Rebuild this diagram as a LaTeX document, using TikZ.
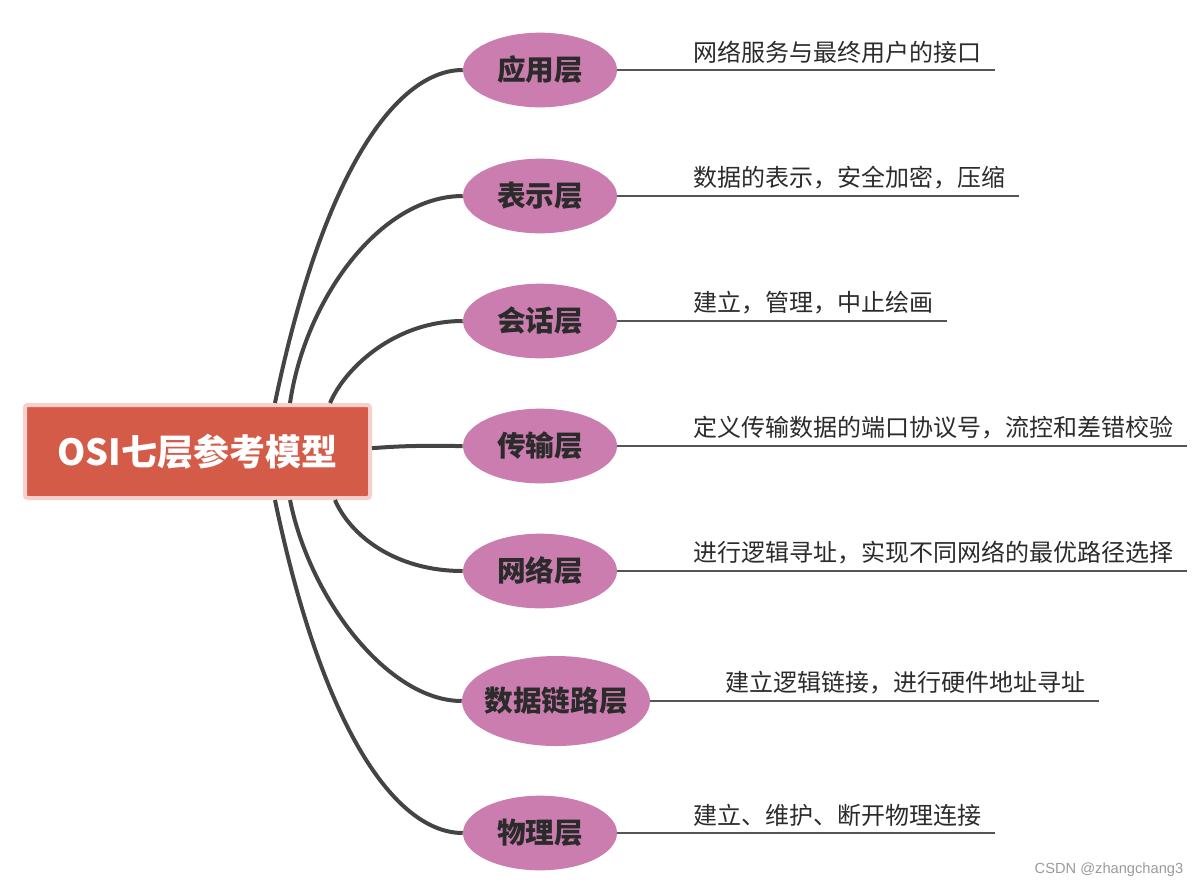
\documentclass[tikz,border=0pt]{standalone}
\usepackage{fontspec}
\setmainfont{Noto Sans CJK SC}
\newfontfamily\wmfont{Liberation Sans}
\usetikzlibrary{shapes.geometric}
\definecolor{Brick}{HTML}{D35B48}
\definecolor{LPink}{HTML}{F9CFCB}
\definecolor{Orchid}{HTML}{CC7DB0}
\definecolor{Ink}{HTML}{2B2B2B}
\definecolor{Branch}{HTML}{444444}
\definecolor{Stem}{HTML}{555555}
\definecolor{Muted}{HTML}{9A9A9A}

\begin{document}
\begin{tikzpicture}[x=0.75pt,y=-0.75pt,
    root/.style={draw=LPink,line width=3pt,fill=Brick,rounded corners=2pt,
                 minimum width=258.75pt,minimum height=69.75pt,
                 font=\bfseries\fontsize{27}{32}\selectfont\color{white}},
    layer/.style={ellipse,fill=Orchid,inner sep=0pt,
                  minimum width=115.5pt,minimum height=56pt,
                  font=\bfseries\fontsize{21.5}{24}\selectfont\color{Ink}},
    desc/.style={anchor=south west,inner xsep=9.75pt,inner ysep=5pt,
                 font=\fontsize{18}{22}\selectfont\color{Ink}},
    branch/.style={line width=3pt,color=Branch},
    stem/.style={line width=1.1pt,color=Stem}
  ]
    \useasboundingbox (0,0) rectangle (1200,890);
    \node[root] (root) at (197.5,451.5) {OSI七层参考模型};
    % layers
    \node[layer] (app) at (540,70)  {应用层};
    \node[layer] (pre) at (540,196) {表示层};
    \node[layer] (ses) at (540,321) {会话层};
    \node[layer] (tra) at (540,446) {传输层};
    \node[layer] (net) at (540,571) {网络层};
    \node[layer,inner xsep=-6pt,minimum width=141pt,minimum height=67.5pt]
         (dl) at (556,701) {数据链路层};
    \node[layer] (phy) at (540,833) {物理层};
    % branches
    \draw[branch] ([xshift=58.1pt]root.north) .. controls +(50,-240) and +(-63,0) .. (app.west);
    \draw[branch] ([xshift=69.4pt]root.north) .. controls +(15,-103) and +(-83,0) .. (pre.west);
    \draw[branch] ([xshift=99.4pt]root.north) .. controls +(15,-35) and +(-68,0) .. (ses.west);
    \draw[branch] ([yshift=2.5pt]root.east) .. controls +(40,-3) and +(-40,0) .. (tra.west);
    \draw[branch] ([xshift=103.1pt]root.south) .. controls +(15,35) and +(-68,0) .. (net.west);
    \draw[branch] ([xshift=69.4pt]root.south) .. controls +(20,100) and +(-73,0) .. (dl.west);
    \draw[branch] ([xshift=58.1pt]root.south) .. controls +(50,240) and +(-63,0) .. (phy.west);
    % descriptions
    \node[desc] (d-app) at (680,70)  {网络服务与最终用户的接口};
    \node[desc] (d-pre) at (680,196) {数据的表示，安全加密，压缩};
    \node[desc] (d-ses) at (680,321) {建立，管理，中止绘画};
    \node[desc] (d-tra) at (680,446) {定义传输数据的端口协议号，流控和差错校验};
    \node[desc] (d-net) at (680,571) {进行逻辑寻址，实现不同网络的最优路径选择};
    \node[desc] (d-dl)  at (712,701) {建立逻辑链接，进行硬件地址寻址};
    \node[desc] (d-phy) at (680,833) {建立、维护、断开物理连接};
    \draw[stem] (app.east) -- (d-app.south east);
    \draw[stem] (pre.east) -- (d-pre.south east);
    \draw[stem] (ses.east) -- (d-ses.south east);
    \draw[stem] (tra.east) -- (d-tra.south east);
    \draw[stem] (net.east) -- (d-net.south east);
    \draw[stem] (dl.east)  -- (d-dl.south east);
    \draw[stem] (phy.east) -- (d-phy.south east);
    \node[anchor=east,font=\wmfont\fontsize{11}{14}\selectfont,text=Muted]
         (mark) at (1188,870) {CSDN @zhangchang3};
  \end{tikzpicture}
\end{document}
